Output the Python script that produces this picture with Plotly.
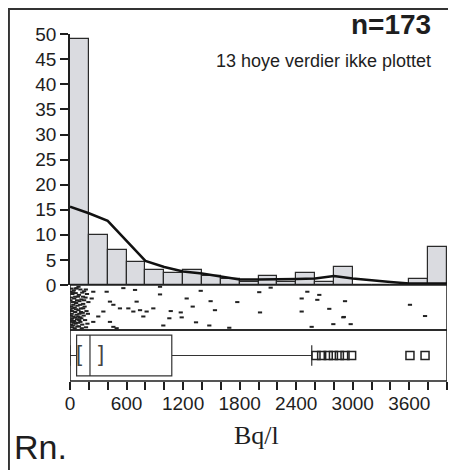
import plotly.graph_objects as go

# histogram: percent of samples per 200 Bq/l bin (last bin holds values above plot)
bin_start = [0, 200, 400, 600, 800, 1000, 1200, 1400, 1600, 1800,
             2000, 2200, 2400, 2600, 2800, 3000, 3200, 3400, 3600, 3800]
bin_pct = [49, 10, 7, 4.6, 2.9, 2.3, 2.9, 1.7, 1.2, 0.6,
           1.7, 0.6, 2.3, 0.6, 3.5, 0, 0, 0, 1.2, 7.5]

# smoothed density curve
curve_x = [0, 200, 400, 600, 800, 1000, 1200, 1400, 1600, 1800, 2000,
           2200, 2400, 2600, 2800, 3000, 3200, 3400, 3600, 3800, 4000]
curve_y = [15.6, 14.3, 12.8, 8.9, 4.8, 3.6, 2.7, 2.3, 1.7, 1.1, 1.1,
           1.1, 1.2, 1.3, 1.8, 1.3, 0.9, 0.6, 0.3, 0.3, 0.3]

# one-dimensional scatter (value, vertical jitter)
strip_x = [15, 40, 70, 110, 150, 25, 60, 95, 130, 180,
           10, 45, 85, 120, 165, 30, 65, 100, 140, 195,
           12, 50, 80, 115, 155, 20, 55, 90, 135, 175,
           8, 35, 70, 105, 145, 15, 45, 75, 110, 160,
           10, 30, 60, 95, 130, 20, 50, 85, 120, 185,
           5, 35, 65, 100, 125, 5, 40, 75, 150, 170,
           25, 55, 90, 140, 190, 18, 48, 78, 108, 138,
           5, 28, 58, 88, 118, 6, 32, 62, 98, 168,
           247, 230, 389, 424, 460, 566, 690, 707, 530, 619,
           672, 743, 778, 813, 884, 354, 300, 247, 424, 495, 460,
           955, 955, 1387, 1238, 1492, 1775, 2008, 2129, 1302, 1069,
           1175, 1538, 2016, 1054, 1185, 1337, 990, 1478, 1690,
           2518, 2458, 2645, 2624, 2918, 3607, 2751, 2458, 2900, 2905,
           3767, 2564, 2794, 2978]
strip_y = [0.92, 0.88, 0.93, 0.90, 0.86, 0.80, 0.82, 0.78, 0.83, 0.80,
           0.72, 0.70, 0.74, 0.68, 0.72, 0.62, 0.60, 0.64, 0.58, 0.62,
           0.52, 0.50, 0.54, 0.48, 0.52, 0.42, 0.40, 0.44, 0.38, 0.42,
           0.32, 0.30, 0.34, 0.28, 0.32, 0.22, 0.20, 0.24, 0.18, 0.22,
           0.12, 0.10, 0.14, 0.08, 0.12, 0.06, 0.04, 0.16, 0.26, 0.14,
           0.85, 0.56, 0.46, 0.36, 0.04, 0.66, 0.16, 0.66, 0.66, 0.06,
           0.26, 0.74, 0.96, 0.48, 0.36, 0.36, 0.62, 0.08, 0.56, 0.74,
           0.44, 0.48, 0.28, 0.30, 0.40, 0.18, 0.84, 0.92, 0.22, 0.90,
           0.85, 0.70, 0.85, 0.63, 0.56, 0.93, 0.89, 0.63, 0.48, 0.48,
           0.41, 0.44, 0.30, 0.41, 0.48, 0.41, 0.30, 0.18, 0.18, 0.04, 0.07,
           0.96, 0.79, 0.87, 0.70, 0.64, 0.62, 0.84, 0.94, 0.52, 0.42,
           0.39, 0.44, 0.39, 0.26, 0.28, 0.17, 0.10, 0.10, 0.05,
           0.85, 0.70, 0.78, 0.67, 0.64, 0.56, 0.47, 0.41, 0.28, 0.29,
           0.31, 0.07, 0.13, 0.13]

# box plot statistics
box_low, box_q1, box_med, box_q3, box_high = 0, 70, 212, 1080, 2565
median_ci = [95, 330]
outliers = [2610, 2670, 2740, 2795, 2858, 2918, 2988, 3607, 3767]

tick_vals = list(range(0, 4001, 200))
tick_text = ["0", "", "", "600", "", "", "1200", "", "", "1800", "", "",
             "2400", "", "", "3000", "", "", "3600", "", ""]

sans = "Liberation Sans, Arial, sans-serif"
ink = "#1e1e1e"

fig = go.Figure()

fig.add_trace(go.Bar(
    x=[b + 100 for b in bin_start], y=bin_pct, width=200,
    marker=dict(color="#dadbe0", line=dict(color="#2a2a2a", width=1.2)),
    xaxis="x", yaxis="y"))

fig.add_trace(go.Scatter(
    x=curve_x, y=curve_y, mode="lines",
    line=dict(color="#111", width=2.5), xaxis="x", yaxis="y"))

fig.add_trace(go.Scatter(
    x=strip_x, y=strip_y, mode="markers",
    marker=dict(symbol="line-ew-open", size=3, color="#222",
                line=dict(color="#222", width=2)),
    xaxis="x", yaxis="y2"))

fig.add_trace(go.Box(
    y=[0.5], q1=[box_q1], median=[box_med], q3=[box_q3],
    lowerfence=[box_low], upperfence=[box_high], orientation="h",
    width=0.8, whiskerwidth=0.5, boxpoints=False,
    fillcolor="white", line=dict(color="#333", width=1.2),
    xaxis="x", yaxis="y3"))

fig.add_trace(go.Scatter(
    x=outliers, y=[0.5] * len(outliers), mode="markers",
    marker=dict(symbol="square-open", size=8, color="#222",
                line=dict(color="#222", width=1.5)),
    xaxis="x", yaxis="y3"))

fig.add_trace(go.Scatter(
    x=median_ci, y=[0.5, 0.5], mode="text", text=["[", "]"],
    textfont=dict(family="Liberation Sans", size=22, color="#444"),
    xaxis="x", yaxis="y3"))

# panel frames for strip and box
for yr in ["y2 domain", "y3 domain"]:
    fig.add_shape(type="rect", xref="x", yref=yr, x0=0, x1=4000, y0=0, y1=1,
                  line=dict(color=ink, width=1.5))

# outer frame
fig.add_shape(type="rect", xref="paper", yref="paper", x0=-0.162, x1=1.016,
              y0=-0.3, y1=1.072, line=dict(color="#333", width=2))

fig.add_annotation(text="<b>n=173</b>", xref="paper", yref="paper", x=0.963, y=1.026,
                   xanchor="right", yanchor="middle", showarrow=False,
                   font=dict(family=sans, size=28, color=ink))
fig.add_annotation(text="13 hoye verdier ikke plottet", xref="paper", yref="paper",
                   x=0.963, y=0.922, xanchor="right", yanchor="middle", showarrow=False,
                   font=dict(family=sans, size=18, color=ink))
fig.add_annotation(text="Bq/l", xref="paper", yref="paper", x=0.496, y=-0.156,
                   xanchor="center", yanchor="middle", showarrow=False,
                   font=dict(family="Liberation Serif", size=26, color=ink))
fig.add_annotation(text="Rn.", xref="paper", yref="paper", x=-0.154, y=-0.25,
                   xanchor="left", yanchor="bottom", showarrow=False,
                   font=dict(family=sans, size=34, color=ink))

# page body adds an 8px offset, so the figure is 8px smaller than the window
fig.update_layout(
    width=448, height=462,
    margin=dict(l=62, r=9, t=26, b=89, autoexpand=False),
    paper_bgcolor="white", plot_bgcolor="white",
    showlegend=False, bargap=0,
    font=dict(family=sans, size=19, color=ink),
    xaxis=dict(range=[0, 4000], anchor="y3", tickvals=tick_vals, ticktext=tick_text,
               ticks="outside", ticklen=8, tickwidth=1.5, tickcolor=ink,
               ticklabelstandoff=-3, automargin=False,
               showgrid=False, zeroline=False, showline=False),
    yaxis=dict(domain=[0.2767, 1], range=[0, 50.05], tickvals=list(range(0, 51, 5)),
               ticks="outside", ticklen=8, tickwidth=1.5, tickcolor=ink,
               showline=True, linecolor=ink, linewidth=1.5, automargin=False,
               showgrid=False, zeroline=False),
    yaxis2=dict(domain=[0.147, 0.2767], range=[0, 1], visible=False),
    yaxis3=dict(domain=[0, 0.147], range=[0, 1], visible=False),
)

fig.write_html("out.html")
